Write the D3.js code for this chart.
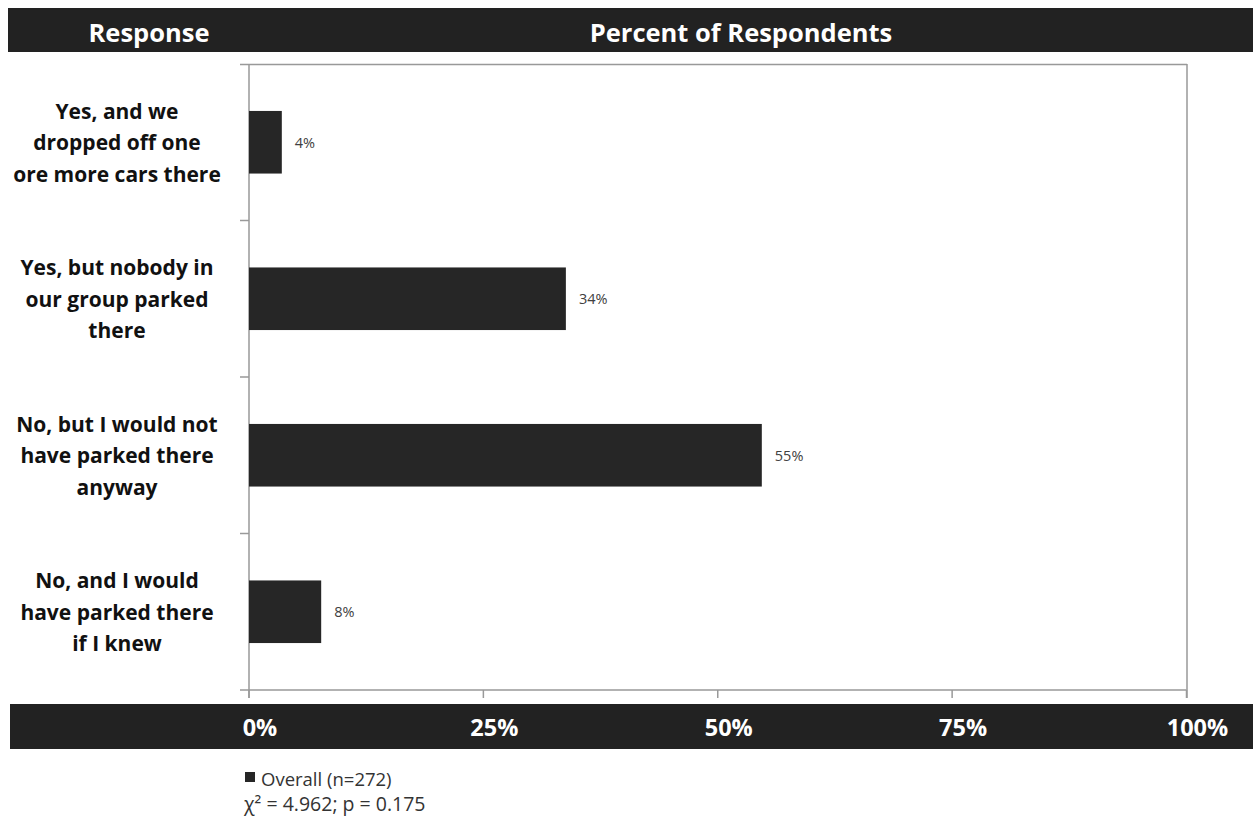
<!DOCTYPE html>
<html><head><meta charset="utf-8">
<script src="https://cdn.jsdelivr.net/npm/d3@7"></script>
<style>body{margin:0;background:#fff;} svg{display:block;font-family:"Open Sans", Lato, sans-serif;}</style>
</head><body>
<script>
const categories = [
  ["Yes, and we", "dropped off one", "ore more cars there"],
  ["Yes, but nobody in", "our group parked", "there"],
  ["No, but I would not", "have parked there", "anyway"],
  ["No, and I would", "have parked there", "if I knew"]
];
const values = [3.5, 33.8, 54.7, 7.7];
const valueLabels = ["4%", "34%", "55%", "8%"];
const tickValues = [0, 25, 50, 75, 100];
const tickLabels = ["0%", "25%", "50%", "75%", "100%"];
const headerLeft = "Response";
const headerRight = "Percent of Respondents";
const legendText = "Overall (n=272)";
const statText = "\u03C7\u00B2 = 4.962; p = 0.175";

const W = 1253, H = 816;
const svg = d3.select("body").append("svg").attr("width", W).attr("height", H);
const dark = "#222222";

const x = d3.scaleLinear().domain([0, 100]).range([249, 1186.5]);
const y = d3.scaleBand().domain(d3.range(categories.length)).range([64, 690]).paddingInner(0.6).paddingOuter(0.3);
const yb = d3.scaleBand().domain(d3.range(categories.length)).range([64, 690]);

// header bar
svg.append("rect").attr("x", 8).attr("y", 8).attr("width", W - 8).attr("height", 44).attr("fill", dark);
svg.append("text").attr("x", 149).attr("y", 32).attr("text-anchor", "middle").attr("dominant-baseline", "central")
  .attr("fill", "#fff").attr("font-weight", "bold").attr("font-size", 25.5).text(headerLeft);
svg.append("text").attr("x", 741).attr("y", 32).attr("text-anchor", "middle").attr("dominant-baseline", "central")
  .attr("fill", "#fff").attr("font-weight", "bold").attr("font-size", 25.5).text(headerRight);

// plot frame
const g = svg.append("g");
g.append("line").attr("x1", 240).attr("x2", x(100) + 0.5).attr("y1", 64.5).attr("y2", 64.5).attr("stroke", "#999").attr("stroke-width", 1.5);
g.append("line").attr("x1", x(100) + 0.5).attr("x2", x(100) + 0.5).attr("y1", 64).attr("y2", 698).attr("stroke", "#999").attr("stroke-width", 1.5);
g.append("line").attr("x1", 249).attr("x2", 249).attr("y1", 64).attr("y2", 698).attr("stroke", "#999").attr("stroke-width", 1.5);
g.append("line").attr("x1", 240).attr("x2", x(100)).attr("y1", 690).attr("y2", 690).attr("stroke", "#999").attr("stroke-width", 1.5);

// category separator ticks
const seps = d3.range(1, categories.length).map(i => yb(i));
g.selectAll(".sep").data(seps).join("line").attr("x1", 240).attr("x2", 249)
  .attr("y1", d => d).attr("y2", d => d).attr("stroke", "#999").attr("stroke-width", 1.5);

// x ticks
g.selectAll(".xt").data(tickValues).join("line").attr("x1", d => x(d)).attr("x2", d => x(d))
  .attr("y1", 690).attr("y2", 698).attr("stroke", "#999").attr("stroke-width", 1.5);

// bars
g.selectAll(".bar").data(values).join("rect")
  .attr("x", x(0)).attr("y", (d, i) => y(i)).attr("width", d => x(d) - x(0)).attr("height", y.bandwidth())
  .attr("fill", "#262626");

g.selectAll(".vl").data(values).join("text")
  .attr("x", d => x(d) + 13).attr("y", (d, i) => y(i) + y.bandwidth() / 2)
  .attr("dominant-baseline", "central").attr("font-size", 14.5).attr("fill", "#404040")
  .text((d, i) => valueLabels[i]);

// category labels
const cl = svg.selectAll(".cl").data(categories).join("text")
  .attr("text-anchor", "middle").attr("font-weight", "bold").attr("font-size", 21).attr("fill", "#111");
cl.each(function(lines, i) {
  const cy = yb(i) + yb.bandwidth() / 2;
  d3.select(this).selectAll("tspan").data(lines).join("tspan")
    .attr("x", 117).attr("y", (d, j) => cy + (j - 1) * 31.5).attr("dominant-baseline", "central").text(d => d);
});

// bottom axis bar
svg.append("rect").attr("x", 10).attr("y", 704).attr("width", W - 10).attr("height", 45).attr("fill", dark);
svg.selectAll(".tl").data(tickValues).join("text")
  .attr("x", d => x(d) + 11).attr("y", 727).attr("text-anchor", "middle").attr("dominant-baseline", "central")
  .attr("fill", "#fff").attr("font-weight", "bold").attr("font-size", 23.5)
  .text((d, i) => tickLabels[i]);

// legend
svg.append("rect").attr("x", 245).attr("y", 772).attr("width", 10).attr("height", 10).attr("fill", "#262626");
svg.append("text").attr("x", 261).attr("y", 778).attr("dominant-baseline", "central").attr("font-size", 18.5).attr("fill", "#333").text(legendText);
svg.append("text").attr("x", 244).attr("y", 803).attr("dominant-baseline", "central").attr("font-size", 19.5).attr("fill", "#333").text(statText);
</script>
</body></html>
